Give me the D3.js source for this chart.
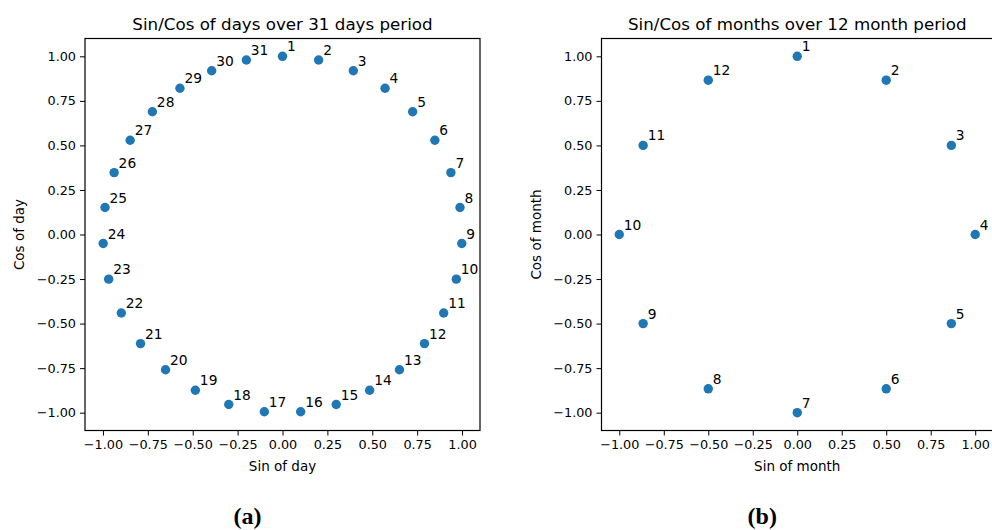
<!DOCTYPE html>
<html>
<head>
<meta charset="utf-8">
<script src="https://cdn.jsdelivr.net/npm/d3@7"></script>
<style>
  body { margin: 0; background: #fff; }
  svg { display: block; font-family: "DejaVu Sans", sans-serif; }
  .tick text { font-family: "DejaVu Sans", sans-serif; font-size: 12.8px; fill: #000; }
  .tick line, .domain { stroke: #000; }
</style>
</head>
<body>
<div id="chart"></div>
<script>
const W = 992, H = 530;

// days 1..31
const dayLabels = d3.range(1, 32);
const daySin = [0, 0.2013, 0.3944, 0.5713, 0.7248, 0.8486, 0.9378, 0.9885, 0.9987, 0.9681,
  0.8978, 0.7907, 0.6514, 0.4853, 0.2993, 0.1012, -0.1012, -0.2993, -0.4853, -0.6514,
  -0.7907, -0.8978, -0.9681, -0.9987, -0.9885, -0.9378, -0.8486, -0.7248, -0.5713, -0.3944, -0.2013];
const dayCos = [1, 0.9796, 0.9190, 0.8208, 0.6890, 0.5290, 0.3473, 0.1514, -0.0506, -0.2507,
  -0.4404, -0.6122, -0.7588, -0.8743, -0.9541, -0.9949, -0.9949, -0.9541, -0.8743, -0.7588,
  -0.6122, -0.4404, -0.2507, -0.0506, 0.1514, 0.3473, 0.5290, 0.6890, 0.8208, 0.9190, 0.9796];

// months 1..12
const monthLabels = d3.range(1, 13);
const monthSin = [0, 0.5, 0.866, 1, 0.866, 0.5, 0, -0.5, -0.866, -1, -0.866, -0.5];
const monthCos = [1, 0.866, 0.5, 0, -0.5, -0.866, -1, -0.866, -0.5, 0, 0.5, 0.866];

const ticks = [-1, -0.75, -0.5, -0.25, 0, 0.25, 0.5, 0.75, 1];

const svg = d3.select("#chart").append("svg").attr("width", W).attr("height", H);

function panel(o) {
  const x = d3.scaleLinear().domain([-1.1, 1.1]).range([o.left, o.right]);
  const y = d3.scaleLinear().domain([-1.1, 1.1]).range([o.bottom, o.top]);
  const g = svg.append("g");

  g.append("g").attr("transform", `translate(0,${o.bottom})`)
    .call(d3.axisBottom(x).tickValues(ticks).tickSize(5).tickPadding(4).tickSizeOuter(0))
    .call(a => a.select(".domain").remove());
  g.append("g").attr("transform", `translate(${o.left},0)`)
    .call(d3.axisLeft(y).tickValues(ticks).tickSize(5).tickPadding(4).tickSizeOuter(0))
    .call(a => a.select(".domain").remove());
  g.selectAll(".tick text").text(d => d3.format(".2f")(d).replace("-", "\u2212"));

  // frame
  g.append("rect").attr("x", o.left).attr("y", o.top)
    .attr("width", o.right - o.left).attr("height", o.bottom - o.top)
    .attr("fill", "none").attr("stroke", "#000").attr("stroke-width", 1.2);

  const pts = o.labels.map((l, i) => ({ l, s: o.sin[i], c: o.cos[i] }));
  g.selectAll("circle").data(pts).enter().append("circle")
    .attr("cx", d => x(d.s)).attr("cy", d => y(d.c)).attr("r", 4.7).attr("fill", "#1f77b4");
  g.selectAll("text.pl").data(pts).enter().append("text").attr("class", "pl")
    .attr("x", d => x(d.s) + 4.5).attr("y", d => y(d.c) - 5)
    .attr("font-size", 13.8).text(d => d.l);

  const ax = x(0);
  g.append("text").attr("x", ax).attr("y", o.top - 9).attr("text-anchor", "middle")
    .attr("font-size", 16.7).text(o.title);
  g.append("text").attr("x", ax).attr("y", 471).attr("text-anchor", "middle")
    .attr("font-size", 13.5).text(o.xlab);
  g.append("text").attr("transform", `translate(${o.left - 61},${y(0)}) rotate(-90)`)
    .attr("text-anchor", "middle").attr("font-size", 13.5).text(o.ylab);
  g.append("text").attr("x", ax - 35).attr("y", 524).attr("text-anchor", "middle")
    .attr("font-family", "'Liberation Serif', serif").attr("font-weight", "bold")
    .attr("font-size", 24).text(o.tag);
}

panel({ left: 85, right: 480, top: 38.5, bottom: 430.5, labels: dayLabels, sin: daySin, cos: dayCos,
  title: "Sin/Cos of days over 31 days period", xlab: "Sin of day", ylab: "Cos of day", tag: "(a)" });
panel({ left: 601.5, right: 993, top: 38.5, bottom: 430.5, labels: monthLabels, sin: monthSin, cos: monthCos,
  title: "Sin/Cos of months over 12 month period", xlab: "Sin of month", ylab: "Cos of month", tag: "(b)" });
</script>
</body>
</html>
